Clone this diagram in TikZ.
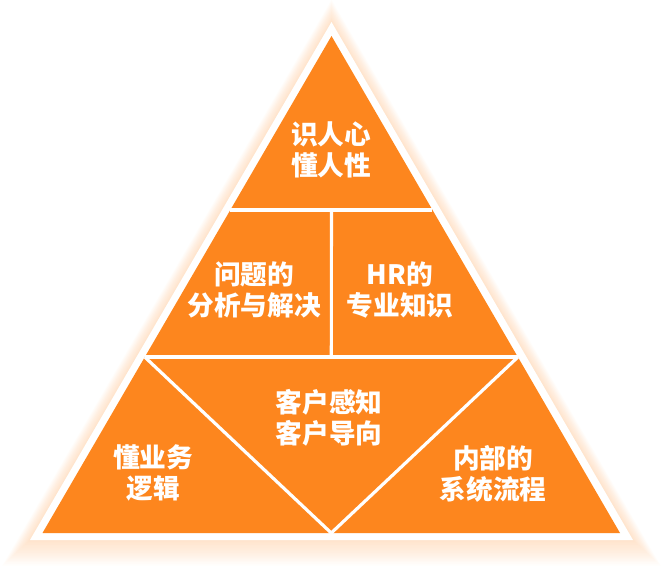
\documentclass[tikz,border=0pt]{standalone}
\usepackage{fontspec}
\newfontfamily\cjk{Noto Sans CJK SC}
\usetikzlibrary{calc}
\definecolor{orange}{HTML}{FD861E}

\begin{document}
\begin{tikzpicture}[x=.75pt,y=-.75pt]
\tikzset{txt/.style={text=white,font=\cjk\bfseries\fontsize{20}{23}\selectfont,align=center,inner sep=0pt},
  cut/.style={draw=white,line width=2.4pt}}

\useasboundingbox (0,0) rectangle (663,580);
% soft glow round the pyramid
\foreach \d in {1,...,16}{
  \fill[orange,opacity=.016] (331.5,{22-1.4*\d}) -- ({30-1.732*\d},{540+1.6*\d})
    -- ({633+1.732*\d},{540+1.6*\d}) -- cycle;
}
\fill[white] (331.5,22) -- (30,540) -- (633,540) -- cycle;

\coordinate (T) at (331.5,36);
\coordinate (L) at (42.5,533);
\coordinate (R) at (620,533);
\fill[orange] (T) -- (L) -- (R) -- cycle;
\coordinate (B) at ($(L)!.5!(R)$);
\coordinate (a1) at ($(T)!.35!(L)$);
\coordinate (a2) at ($(T)!.35!(R)$);
\coordinate (b1) at ($(T)!.646!(L)$);
\coordinate (b2) at ($(T)!.646!(R)$);
\draw[cut] (a1) -- (a2);
\draw[cut] (b1) -- (b2);
\draw[cut] ($(a1)!.5!(a2)$) -- ($(b1)!.5!(b2)$);
\draw[cut] (b1) -- (B) -- (b2);

\node[txt] (top) at (331,150) {识人心\\懂人性};
\node[txt] (issue) at (254,290) {问题的\\分析与解决};
\node[txt] (hr) at (400,290) {HR的\\专业知识};
\node[txt] (client) at (329,418) {客户感知\\客户导向};
\node[txt] (biz) at (153,473) {懂业务\\逻辑};
\node[txt] (flow) at (493,474) {内部的\\系统流程};
\end{tikzpicture}
\end{document}
